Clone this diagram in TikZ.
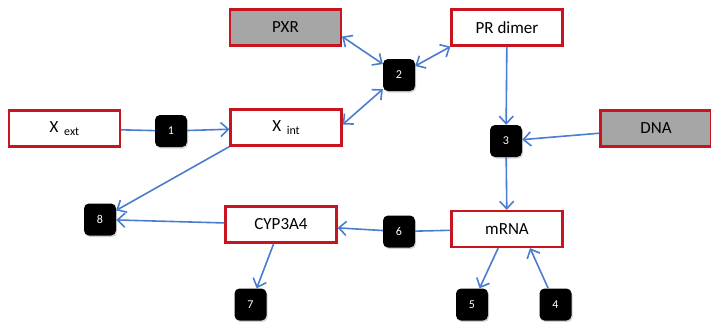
\documentclass[tikz,border=0pt]{standalone}
\usepackage{fontspec}
\setmainfont{Carlito}
\usetikzlibrary{arrows.meta,shadows}
\definecolor{linkblue}{HTML}{4A7CCF}
\definecolor{boxred}{HTML}{C8141E}
\definecolor{boxgray}{HTML}{A6A6A6}

\begin{document}
\begin{tikzpicture}[
	x=1pt, y=-1pt,
	>={Straight Barb[length=7.5pt,width=14pt]},
	species/.style={
		rectangle,
		draw=boxred,
		line width=2.2pt,
		fill=white,
		minimum width=111pt,
		minimum height=36pt,
		font=\fontsize{17}{20}\selectfont
	},
	bound/.style={species, fill=boxgray},
	reaction/.style={
		rectangle,
		rounded corners=5pt,
		fill=black,
		text=white,
		minimum size=32pt,
		inner sep=0pt,
		font=\fontsize{12}{14}\selectfont,
		drop shadow={shadow xshift=1pt, shadow yshift=-1.5pt, opacity=0.35}
	},
	every edge/.append style={draw=linkblue, line width=1.6pt}]

   \useasboundingbox (0,0) rectangle (711,321);

   \node[bound] (pxr) at (285.5,27.5) {PXR};
   \node[species] (prd) at (507,27.5) {PR dimer};
   \node[species] (xext) at (64.5,128.5) {X\,\,\raisebox{-2.5pt}{\fontsize{12}{14}\selectfont ext}};
   \node[species] (xint) at (286,127.5) {X\,\,\raisebox{-2.5pt}{\fontsize{12}{14}\selectfont int}};
   \node[bound] (dna) at (656,128.5) {DNA};
   \node[species] (cyp) at (281,224.5) {CYP3A4};
   \node[species] (mrna) at (507,229) {mRNA};

   \node[reaction] (r_1) at (171,131) {1};
   \node[reaction] (r_2) at (399,75) {2};
   \node[reaction] (r_3) at (506,141) {3};
   \node[reaction] (r_4) at (555.5,304.5) {4};
   \node[reaction] (r_5) at (472,304.5) {5};
   \node[reaction] (r_6) at (399,231.5) {6};
   \node[reaction] (r_7) at (250.5,304.5) {7};
   \node[reaction] (r_8) at (100,219.5) {8};

   \path
    (xext) edge (r_1)
    (mrna) edge (r_6);
   \path[->]
    (r_1) edge (xint)
    (prd) edge (r_3)
    (dna) edge (r_3)
    (r_3) edge (mrna)
    (r_6) edge (cyp)
    (xint.south west) edge (r_8)
    (cyp) edge (r_8)
    (cyp) edge (r_7)
    (mrna) edge (r_5)
    (r_4) edge ([xshift=23pt]mrna.south);
   \path[<->]
    ([yshift=-9pt]pxr.east) edge (r_2)
    (r_2) edge (prd.south west)
    ([yshift=3pt]xint.east) edge (r_2);
\end{tikzpicture}
\end{document}
